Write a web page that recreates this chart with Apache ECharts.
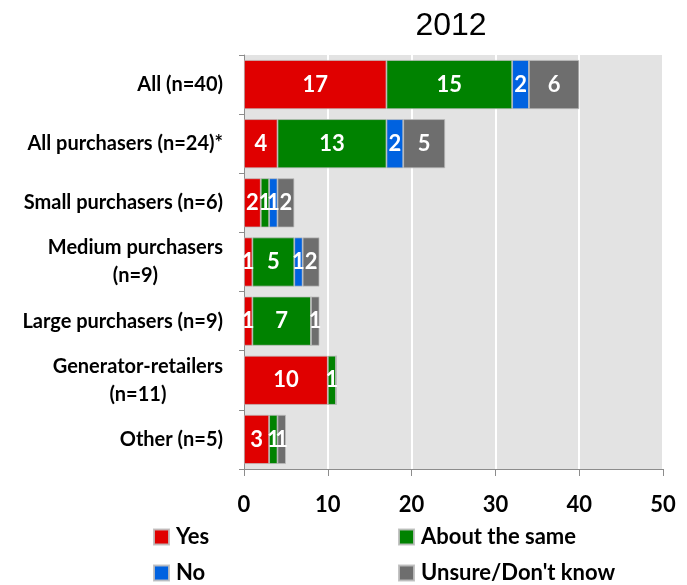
<!DOCTYPE html>
<html>
<head>
<meta charset="utf-8">
<script src="https://cdn.jsdelivr.net/npm/echarts@6/dist/echarts.min.js"></script>
<style>
  html, body { margin: 0; padding: 0; background: #fff; }
  #chart { width: 687px; height: 585px; }
</style>
</head>
<body>
<div id="chart"></div>
<script>
// Survey responses by respondent group, 2012
const categories = [
  'All (n=40)',
  'All purchasers (n=24)*',
  'Small purchasers (n=6)',
  'Medium purchasers\n(n=9)',
  'Large purchasers (n=9)',
  'Generator-retailers\n(n=11)',
  'Other (n=5)'
];
const yes        = [17, 4, 2, 1, 1, 10, 3];
const aboutSame  = [15, 13, 1, 5, 7, 1, 1];
const no         = [2, 2, 1, 1, 0, 0, 0];
const unsure     = [6, 5, 2, 2, 1, 0, 1];
const xTicks     = [0, 10, 20, 30, 40, 50];

const FONT = 'Lato, "Open Sans", sans-serif';

function seg(name, data, color) {
  return {
    name: name,
    type: 'bar',
    stack: 'total',
    data: data,
    barCategoryGap: '17%',
    itemStyle: { color: color, borderColor: 'rgba(190,190,190,0.9)', borderWidth: 0.8 },
    label: {
      show: true,
      position: 'inside',
      color: '#fff',
      fontFamily: FONT,
      fontWeight: 'bold',
      fontSize: 22,
      formatter: p => (p.value ? String(p.value) : '')
    }
  };
}

function legendItem(name, left, top) {
  return {
    orient: 'horizontal', left: left, top: top, padding: 0,
    itemWidth: 15, itemHeight: 15, icon: 'rect',
    data: [name],
    textStyle: { fontFamily: FONT, fontWeight: 'bold', fontSize: 22, color: '#000', padding: [0, 0, 0, 2] }
  };
}

const chart = echarts.init(document.getElementById('chart'), null, { renderer: 'canvas' });
chart.setOption({
  animation: false,
  title: {
    text: '2012',
    left: 446,
    textAlign: 'center',
    top: 5,
    textStyle: { fontFamily: '"Liberation Sans", Arial, sans-serif', fontWeight: 'normal', fontSize: 32, color: '#000' }
  },
  grid: {
    left: 244, right: 24, top: 55, bottom: 116,
    show: true, backgroundColor: '#E3E3E3', borderWidth: 0
  },
  xAxis: {
    type: 'value',
    min: xTicks[0], max: xTicks[xTicks.length - 1], interval: 10,
    axisLine: { show: true, lineStyle: { color: '#8C8C8C', width: 1 } },
    axisTick: { show: true, length: 7, lineStyle: { color: '#8C8C8C' } },
    splitLine: { show: true, lineStyle: { color: '#fff', width: 2 } },
    axisLabel: { margin: 25, color: '#000', fontFamily: FONT, fontWeight: 'bold', fontSize: 22 }
  },
  yAxis: {
    type: 'category',
    inverse: true,
    data: categories,
    axisLine: { show: true, lineStyle: { color: '#8C8C8C', width: 1 } },
    axisTick: { show: true, length: 5, lineStyle: { color: '#8C8C8C' } },
    axisLabel: {
      margin: 21,
      color: '#000',
      fontFamily: FONT,
      fontWeight: 'bold',
      fontSize: 20,
      lineHeight: 28,
      formatter: v => v.split('\n').map(s => '{c|' + s + '}').join('\n'),
      rich: { c: { align: 'center', fontFamily: FONT, fontWeight: 'bold', fontSize: 20, lineHeight: 28, color: '#000' } }
    }
  },
  legend: [
    legendItem('Yes', 153, 526),
    legendItem('No', 153, 562),
    legendItem('About the same', 398, 526),
    legendItem("Unsure/Don't know", 398, 562)
  ],
  series: [
    seg('Yes', yes, '#E00000'),
    seg('About the same', aboutSame, '#008200'),
    seg('No', no, '#0062E0'),
    seg("Unsure/Don't know", unsure, '#6E6E6E')
  ]
});
</script>
</body>
</html>
